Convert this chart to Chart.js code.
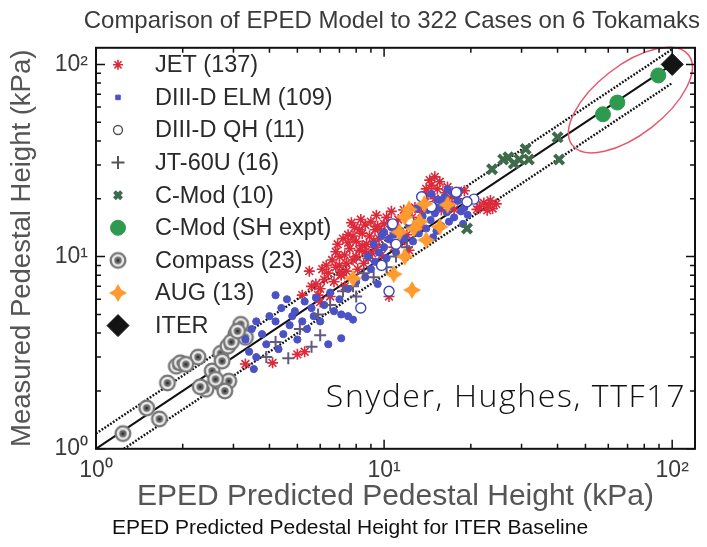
<!DOCTYPE html>
<html>
<head>
<meta charset="utf-8">
<title>EPED model comparison</title>
<script src="https://cdn.jsdelivr.net/npm/chart.js@4.4.0/dist/chart.umd.min.js"></script>
<style>
  html, body { margin: 0; padding: 0; background: #fff; }
  #wrap { width: 707px; height: 547px; }
</style>
</head>
<body>
<div id="wrap"><canvas id="eped" width="707" height="547"></canvas></div>
<script>
// [predicted, measured] pairs in kPa
const jetPoints = [
  [7.0, 9.0], [7.3, 10.2], [7.6, 11.0], [7.8, 9.6], [8.0, 12.0], [8.2, 10.8], [8.4, 13.2], [8.5, 9.2], [8.7, 11.6], [8.9, 12.8],
  [9.1, 10.4], [9.3, 13.8], [7.2, 12.4], [7.5, 13.0], [7.9, 14.2], [8.1, 8.6], [8.6, 14.6], [9.0, 15.2], [6.8, 10.6], [6.6, 9.6],
  [7.4, 8.4], [9.4, 11.2], [9.6, 12.4], [8.3, 15.6], [7.7, 15.0], [9.8, 13.6], [10.0, 14.8], [6.9, 11.6], [7.1, 8.0], [8.8, 9.8],
  [7.5, 11.8], [8.0, 10.0], [8.4, 11.4], [7.0, 10.0], [7.8, 12.8], [9.2, 12.0], [8.6, 10.6], [7.4, 9.2], [8.2, 13.8], [9.5, 14.4],
  [5.5, 8.4], [5.8, 7.2], [6.0, 6.8], [6.2, 7.6], [6.4, 8.2], [6.7, 7.4], [7.1, 8.1], [6.3, 9.0], [5.2, 6.3], [6.5, 6.2],
  [7.3, 7.0], [6.0, 5.8], [5.6, 7.0], [6.1, 8.6], [6.8, 8.8], [5.9, 6.3], [5.0, 3.1], [5.3, 3.2], [3.3, 2.76], [4.1, 2.8],
  [13.8, 19.0], [14.2, 21.0], [14.6, 23.5], [15.0, 20.0], [15.3, 22.5], [15.6, 24.5], [16.0, 19.5], [16.3, 21.5], [14.8, 18.0], [13.5, 17.0],
  [15.8, 17.5], [14.4, 25.0], [16.6, 23.0], [17.2, 20.5], [15.0, 26.0], [14.0, 22.5], [16.9, 18.6],
  [21.5, 18.2], [22.2, 19.0], [23.0, 18.6], [23.8, 17.8], [24.5, 18.8], [22.8, 17.4], [21.0, 17.6], [23.4, 19.6],
  [10.5, 12.6], [11.0, 14.0], [12.0, 13.0], [12.5, 16.0], [13.0, 15.0], [10.8, 11.2], [11.5, 12.0], [12.8, 18.0], [10.2, 16.0], [11.7, 17.5],
  [9.8, 10.2], [13.4, 14.2], [18.0, 20.0], [19.0, 22.0], [17.5, 17.6], [12.2, 10.8], [10.4, 6.2], [10.6, 17.2], [11.2, 15.6], [9.4, 16.4]
];
const d3dElmPoints = [
  [3.47, 4.2], [3.77, 3.95], [4.2, 4.6], [4.4, 5.4], [4.9, 5.2], [5.3, 5.84], [4.47, 3.95], [5.2, 4.6], [6.0, 4.6], [6.7, 5.2],
  [7.1, 3.76], [6.4, 3.5], [4.2, 6.3], [3.53, 2.6], [3.6, 4.6], [4.0, 4.9], [4.7, 4.4], [5.6, 5.4], [5.8, 6.1], [6.2, 5.6],
  [3.9, 3.5], [4.3, 3.3], [5.0, 3.7], [3.4, 3.2], [4.6, 6.0], [5.4, 4.2], [6.5, 6.5], [7.0, 6.0], [7.5, 6.8], [3.3, 3.7],
  [7.1, 5.0], [7.5, 4.9], [7.8, 4.7], [3.6, 3.0], [4.8, 4.9], [5.7, 4.9],
  [9.3, 9.4], [9.6, 10.5], [10.0, 11.2], [10.4, 12.3], [10.8, 13.0], [11.2, 11.8], [9.8, 12.8], [10.2, 9.8], [11.0, 10.5], [8.8, 10.0],
  [9.0, 8.6], [10.6, 14.2], [11.4, 13.6], [8.6, 7.8], [9.5, 7.2], [8.0, 7.4], [10.0, 13.4], [9.2, 11.6], [11.8, 12.4], [12.2, 14.6],
  [14.0, 14.0], [14.5, 15.5], [15.0, 16.8], [15.5, 18.0], [16.0, 19.2], [16.5, 17.0], [17.0, 18.5], [17.5, 16.0], [18.0, 19.5], [18.5, 17.2],
  [19.0, 18.0], [15.2, 13.6], [16.8, 15.2], [14.2, 17.5], [13.6, 16.2], [17.8, 20.8], [16.2, 20.4], [15.8, 14.4], [19.5, 16.5], [13.2, 13.2],
  [14.8, 12.6], [12.6, 12.0], [18.8, 14.8], [15.4, 19.8], [14.6, 21.2], [17.2, 21.6], [16.6, 22.4], [13.0, 17.8], [18.2, 22.0]
];
const d3dQhPoints = [
  [10.7, 14.8], [10.4, 6.6], [8.3, 5.4], [20.5, 19.9], [19.4, 19.3], [11.0, 11.6],
  [12.2, 15.4], [13.5, 20.5], [9.8, 9.0], [14.6, 18.2], [17.8, 21.6]
];
const jt60uPoints = [
  [4.65, 2.96], [5.9, 5.0], [4.2, 3.6], [5.1, 4.2], [6.5, 5.6], [7.2, 6.6], [7.8, 7.0], [8.5, 8.2],
  [9.2, 7.8], [10.2, 8.8], [6.0, 3.9], [5.6, 3.4], [3.9, 3.0], [8.0, 6.2], [11.0, 10.0], [12.0, 11.2]
];
const cmodPoints = [
  [23.7, 28.5], [25.9, 32.0], [27.0, 32.9], [29.5, 32.0], [31.0, 36.3],
  [31.8, 32.0], [40.0, 41.8], [40.5, 32.0], [19.4, 14.0], [28.2, 30.5]
];
const cmodShPoints = [[57.5, 55.0], [64.5, 63.3], [89.5, 87.6]];
const compassPoints = [
  [1.24, 1.2], [1.5, 1.63], [1.66, 1.43], [1.77, 2.2], [1.9, 2.69], [1.96, 2.8], [2.26, 3.0], [2.41, 2.04],
  [2.53, 2.54], [2.71, 3.14], [2.74, 2.86], [2.74, 2.17], [2.87, 3.42], [2.89, 2.25], [3.06, 3.95], [3.18, 4.44],
  [3.3, 3.8], [2.6, 2.3], [2.8, 2.0], [2.05, 2.75], [2.95, 3.6], [3.1, 4.1], [2.3, 2.1]
];
const augPoints = [
  [11.8, 16.1], [11.3, 13.4], [12.7, 14.0], [15.6, 14.3], [14.0, 12.2], [11.8, 10.0], [10.8, 8.1],
  [12.5, 6.7], [7.8, 7.7], [13.3, 15.2], [16.6, 18.6], [12.2, 17.6], [13.8, 18.8]
];
const iterPoints = [[100, 100]];

// reference lines: y = x and +/-20% bands
const unityLine = [[1, 1], [100, 100]];
const upperBand = [[1, 1.2], [100, 120]];
const lowerBand = [[1.25, 1], [100, 80]];

// red ellipse around the high-pressure points (ends of long axis, data units)
const ellipseEnds = [[45.0, 38.0], [114.0, 112.0]];
const ellipseRatio = 0.47;

const tickValues = [1, 2, 3, 4, 5, 6, 7, 8, 9, 10, 20, 30, 40, 50, 60, 70, 80, 90, 100];
const majorTicks = [1, 10, 100];
const majorTickLabels = ['10\u2070', '10\u00b9', '10\u00b2'];

const FONT = '"Liberation Sans", Arial, Helvetica, sans-serif';
const toXY = pts => pts.map(([x, y]) => ({ x, y }));

// compass marker: grey ring with a dot
function compassMarker() {
  const c = document.createElement('canvas');
  c.width = 20; c.height = 20;
  const g = c.getContext('2d');
  const dot = (r, col) => { g.beginPath(); g.arc(10, 10, r, 0, Math.PI * 2); g.fillStyle = col; g.fill(); };
  dot(8.5, '#777777');
  dot(6.2, '#e9e9e9');
  dot(3.7, '#6c6c6c');
  dot(1.6, '#333333');
  return c;
}

// AUG marker: orange four-point sparkle
function augMarker() {
  const c = document.createElement('canvas');
  c.width = 18; c.height = 18;
  const g = c.getContext('2d');
  g.beginPath();
  g.moveTo(9, 0); g.lineTo(12.3, 5.7); g.lineTo(18, 9); g.lineTo(12.3, 12.3);
  g.lineTo(9, 18); g.lineTo(5.7, 12.3); g.lineTo(0, 9); g.lineTo(5.7, 5.7);
  g.closePath();
  g.fillStyle = '#ff9a2e';
  g.fill();
  return c;
}

const compassImg = compassMarker();
const augImg = augMarker();

function lineSet(pts, dash, width) {
  return {
    data: toXY(pts), showLine: true, pointRadius: 0, borderColor: '#111', borderWidth: width,
    borderDash: dash, borderCapStyle: 'butt', fill: false, order: 20
  };
}

const datasets = [
  { label: 'JET (137)', data: toXY(jetPoints), pointStyle: 'star', pointRadius: 5.5, borderColor: '#dc2a3a', backgroundColor: '#dc2a3a', borderWidth: 1.6, order: 7, legendRow: 0, legendRadius: 5 },
  { label: 'DIII-D ELM (109)', data: toXY(d3dElmPoints), pointStyle: 'circle', pointRadius: 3.6, borderColor: '#4a52c6', backgroundColor: '#4a52c6', borderWidth: 1, order: 6, legendRow: 1, legendStyle: 'rect', legendRadius: 3.2 },
  { label: 'DIII-D QH (11)', data: toXY(d3dQhPoints), pointStyle: 'circle', pointRadius: 5, borderColor: '#3b47b8', backgroundColor: '#ffffff', borderWidth: 1.4, order: 3, legendRow: 2, legendRadius: 4.5, legendStroke: '#555', legendFill: '#ffffff' },
  { label: 'JT-60U (16)', data: toXY(jt60uPoints), pointStyle: 'cross', pointRadius: 6, borderColor: '#625a7e', backgroundColor: '#625a7e', borderWidth: 2, order: 5, legendRow: 3, legendRadius: 6.5, legendStroke: '#555', legendFill: '#555' },
  { label: 'C-Mod (10)', data: toXY(cmodPoints), pointStyle: 'crossRot', pointRadius: 6.5, borderColor: '#3d6b4b', backgroundColor: '#3d6b4b', borderWidth: 4, order: 4, legendRow: 4, legendRadius: 5 },
  { label: 'C-Mod (SH expt)', data: toXY(cmodShPoints), pointStyle: 'circle', pointRadius: 7.5, borderColor: '#2e9a4f', backgroundColor: '#2e9a4f', borderWidth: 1, order: 1, legendRow: 5, legendRadius: 7.5 },
  { label: 'Compass (23)', data: toXY(compassPoints), pointStyle: compassImg, pointRadius: 8, borderColor: '#8a8a8a', backgroundColor: '#8a8a8a', order: 8, legendRow: 6 },
  { label: 'AUG (13)', data: toXY(augPoints), pointStyle: augImg, pointRadius: 8, borderColor: '#ff9a2e', backgroundColor: '#ff9a2e', order: 2, legendRow: 7 },
  { label: 'ITER', data: toXY(iterPoints), pointStyle: 'rectRot', pointRadius: 11, borderColor: '#141414', backgroundColor: '#141414', borderWidth: 1, order: 0, legendRow: 8, legendRadius: 11 },
  lineSet(unityLine, [], 2),
  lineSet(upperBand, [1.8, 1.6], 2.4),
  lineSet(lowerBand, [1.8, 1.6], 2.4)
];

// box, inward ticks on all four sides, ellipse, legend and credit
const framePlugin = {
  id: 'frame',
  afterDatasetsDraw(chart) {
    const { ctx, chartArea: a, scales } = chart;
    const xs = scales.x, ys = scales.y;

    // ellipse
    const p0 = [xs.getPixelForValue(ellipseEnds[0][0]), ys.getPixelForValue(ellipseEnds[0][1])];
    const p1 = [xs.getPixelForValue(ellipseEnds[1][0]), ys.getPixelForValue(ellipseEnds[1][1])];
    const semi = Math.hypot(p1[0] - p0[0], p1[1] - p0[1]) / 2;
    ctx.save();
    ctx.beginPath();
    ctx.ellipse((p0[0] + p1[0]) / 2, (p0[1] + p1[1]) / 2, semi, semi * ellipseRatio,
      Math.atan2(p1[1] - p0[1], p1[0] - p0[0]), 0, Math.PI * 2);
    ctx.strokeStyle = '#e8566e';
    ctx.lineWidth = 1.5;
    ctx.stroke();
    ctx.restore();

    // ticks
    ctx.save();
    ctx.strokeStyle = '#111';
    ctx.lineWidth = 1.5;
    ctx.beginPath();
    tickValues.forEach(v => {
      const len = majorTicks.includes(v) ? 9 : 5;
      const px = xs.getPixelForValue(v);
      ctx.moveTo(px, a.bottom); ctx.lineTo(px, a.bottom - len);
      ctx.moveTo(px, a.top); ctx.lineTo(px, a.top + len);
      const py = ys.getPixelForValue(v);
      ctx.moveTo(a.left, py); ctx.lineTo(a.left + len, py);
      ctx.moveTo(a.right, py); ctx.lineTo(a.right - len, py);
    });
    ctx.stroke();
    ctx.lineWidth = 2;
    ctx.strokeRect(a.left, a.top, a.right - a.left, a.bottom - a.top);
    ctx.restore();

    // legend inside the plot
    ctx.save();
    ctx.font = '23.5px ' + FONT;
    ctx.textBaseline = 'middle';
    chart.data.datasets.forEach(ds => {
      if (ds.legendRow === undefined) return;
      const y = a.top + 17 + ds.legendRow * 32.6;
      const x = a.left + 22;
      ctx.save();
      ctx.fillStyle = ds.legendFill || ds.backgroundColor;
      ctx.strokeStyle = ds.legendStroke || ds.borderColor;
      ctx.lineWidth = ds.borderWidth || 1;
      Chart.helpers.drawPoint(ctx, {
        pointStyle: ds.legendStyle || ds.pointStyle,
        radius: ds.legendRadius || ds.pointRadius,
        borderWidth: ds.borderWidth || 0,
        rotation: 0
      }, x, y);
      ctx.restore();
      ctx.fillStyle = '#2a2a2a';
      ctx.fillText(ds.label, a.left + 59, y + 1);
    });
    ctx.restore();

    // credit
    ctx.save();
    ctx.font = '300 32px "Open Sans", "DejaVu Sans", sans-serif';
    ctx.letterSpacing = '1.6px';
    ctx.textAlign = 'right';
    ctx.textBaseline = 'alphabetic';
    ctx.fillStyle = '#111';
    ctx.fillText('Snyder, Hughes, TTF17', a.right - 9, a.bottom - 42);
    ctx.restore();
  }
};

function logAxis(max, title, titleSize, titlePad, fit) {
  return {
    type: 'logarithmic',
    min: 1,
    max: max,
    grid: { display: false, drawTicks: false },
    border: { display: false },
    afterBuildTicks: scale => { scale.ticks = tickValues.map(v => ({ value: v })); },
    afterFit: fit,
    ticks: {
      autoSkip: false,
      maxRotation: 0,
      minRotation: 0,
      padding: 8,
      color: '#3a3a3a',
      font: { family: FONT, size: 23 },
      callback: v => {
        const i = majorTicks.indexOf(v);
        return i >= 0 ? majorTickLabels[i] : '';
      }
    },
    title: {
      display: true,
      text: title,
      color: '#555',
      font: { family: FONT, size: titleSize },
      padding: titlePad
    }
  };
}

new Chart(document.getElementById('eped'), {
  type: 'scatter',
  data: { datasets },
  options: {
    responsive: false,
    animation: false,
    events: [],
    layout: { padding: { left: 0, right: 7, top: 0, bottom: 0 } },
    scales: {
      x: logAxis(120, 'EPED Predicted Pedestal Height (kPa)', 30, { top: 0, bottom: 0 }, s => { s.height = 66; }),
      y: logAxis(122, 'Measured Pedestal Height (kPa)', 27.5, { top: 6, bottom: 0 }, s => { s.width = 96; })
    },
    plugins: {
      legend: { display: false },
      tooltip: { enabled: false },
      title: {
        display: true,
        text: 'Comparison of EPED Model to 322 Cases on 6 Tokamaks',
        align: 'end',
        color: '#3a3a3a',
        font: { family: FONT, size: 24, weight: 'normal' },
        padding: { top: 7, bottom: 12 }
      },
      subtitle: {
        display: true,
        position: 'bottom',
        text: 'EPED Predicted Pedestal Height for ITER Baseline',
        color: '#111',
        font: { family: FONT, size: 21 },
        padding: { top: 1, bottom: 6 }
      }
    }
  },
  plugins: [framePlugin]
});
</script>
</body>
</html>
